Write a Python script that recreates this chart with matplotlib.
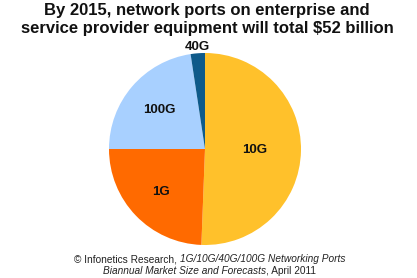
import matplotlib
matplotlib.use("Agg")
import matplotlib.pyplot as plt
import numpy as np

categories = ["10G", "1G", "100G", "40G"]
shares = [50.6, 24.4, 22.6, 2.4]
colors = ["#FFC12B", "#FF6A00", "#A8D0FF", "#0E5A8A"]
label_dist = [0.52, 0.64, 0.62, 1.07]

plt.rcParams['font.family'] = ['Liberation Sans', 'DejaVu Sans']

W, H = 417, 278
fig = plt.figure(figsize=(W / 100, H / 100), dpi=100)
fig.patch.set_facecolor("white")

cx, cy, r = 205, 149, 96
ax = fig.add_axes([(cx - r) / W, (H - cy - r) / H, 2 * r / W, 2 * r / H])
wedges, _ = ax.pie(shares, colors=colors, startangle=90, counterclock=False,
                   radius=1.0, wedgeprops=dict(linewidth=0))
ax.set_xlim(-1, 1)
ax.set_ylim(-1, 1)
ax.set_aspect('equal')
ax.axis('off')

for w, lab, d in zip(wedges, categories, label_dist):
    ang = np.deg2rad((w.theta1 + w.theta2) / 2)
    ax.text(d * np.cos(ang), d * np.sin(ang), lab, ha='center', va='center',
            fontsize=9.5, fontweight='bold', color='#111111', clip_on=False)

fig.text(0.497, 1 - 10.5 / H, "By 2015, network ports on enterprise and",
         ha='center', va='center', fontsize=12, fontweight='bold', color='#111111')
fig.text(0.497, 1 - 28.5 / H, "service provider equipment will total $52 billion",
         ha='center', va='center', fontsize=12, fontweight='bold', color='#111111')

# footer with mixed styles
fig.canvas.draw()
renderer = fig.canvas.get_renderer()

def mixed_line(parts, yc, fs=7.3):
    objs = []
    for txt, style in parts:
        t = fig.text(0, 1 - yc / H, txt, ha='left', va='center', fontsize=fs,
                     fontstyle=style, color='#222222')
        objs.append(t)
    widths = [o.get_window_extent(renderer).width for o in objs]
    total = sum(widths)
    x = (W * 0.5 + 1) - total / 2
    for o, wd in zip(objs, widths):
        o.set_x(x / W)
        x += wd

mixed_line([("\u00a9 Infonetics Research, ", 'normal'),
            ("1G/10G/40G/100G Networking Ports", 'italic')], 259)
mixed_line([("Biannual Market Size and Forecasts", 'italic'),
            (", April 2011", 'normal')], 271.5)

fig.savefig("out.png", dpi=100, facecolor="white")
